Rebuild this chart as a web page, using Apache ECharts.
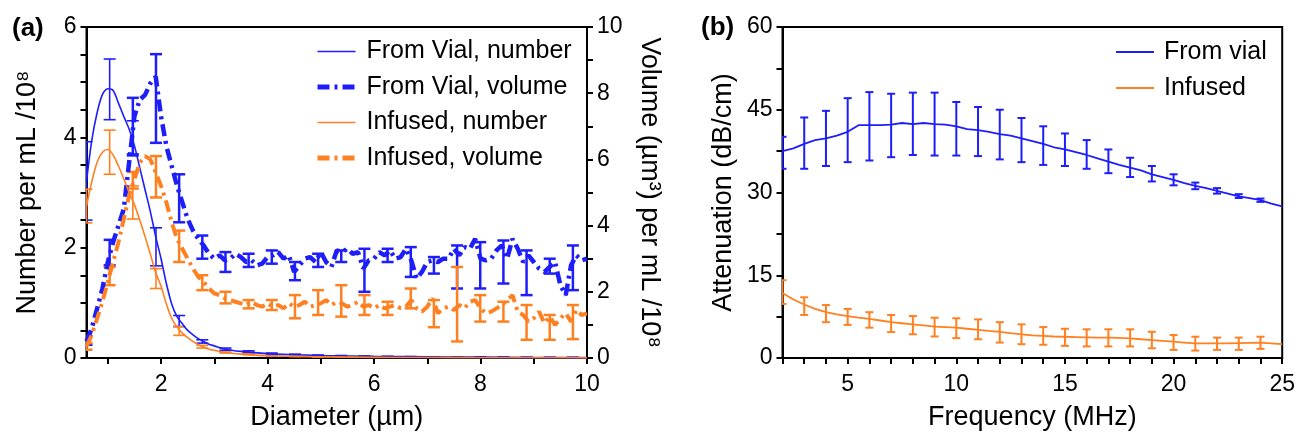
<!DOCTYPE html>
<html><head><meta charset="utf-8">
<script src="https://cdn.jsdelivr.net/npm/echarts@6/dist/echarts.min.js"></script>
<style>html,body{margin:0;padding:0;background:#fff}#c{width:1298px;height:436px}</style>
</head><body><div id="c"></div>
<script>
// ---------- Panel (a) data ----------
const diamTicks = [1,2,3,4,5,6,7,8,9,10];
const diamLabels = [2,4,6,8,10];
const numTicks = [0,0.5,1,1.5,2,2.5,3,3.5,4,4.5,5,5.5,6];
const numLabels = [0,2,4,6];
const volTicks = [0,1,2,3,4,5,6,7,8,9,10];
const volLabels = [0,2,4,6,8,10];

const numX = [0.6,0.7,0.8,0.9,1.0,1.1,1.2,1.3,1.4,1.5,1.6,1.7,1.8,1.9,2.0,2.1,2.2,2.3,2.4,2.5,2.6,2.7,2.8,2.9,3.0,3.2,3.5,4,4.5,5,6,7,8,9,10];
const vialNumber = [3.2,3.95,4.45,4.78,4.88,4.85,4.62,4.38,4.15,3.85,3.45,3.05,2.65,2.2,1.8,1.35,0.98,0.75,0.62,0.5,0.42,0.35,0.3,0.25,0.22,0.16,0.12,0.08,0.06,0.045,0.03,0.02,0.015,0.01,0.01];
const infusedNumber = [2.75,3.2,3.55,3.73,3.78,3.68,3.48,3.25,3.0,2.78,2.5,2.2,1.88,1.55,1.3,0.98,0.72,0.56,0.45,0.37,0.3,0.24,0.2,0.16,0.14,0.1,0.07,0.04,0.03,0.02,0.012,0.008,0.005,0.004,0.003];

const volX = [0.6,0.7,0.8,0.9,1.0,1.1,1.2,1.3,1.4,1.5,1.6,1.7,1.8,1.9,2.0,2.1,2.2,2.3,2.4,2.5,2.6,2.7,2.8,2.9,3.0,3.1,3.2,3.3,3.4,3.5,3.6,3.7,3.8,3.9,4.0,4.1,4.2,4.3,4.4,4.5,4.6,4.7,4.8,4.9,5.0,5.1,5.2,5.3,5.4,5.5,5.6,5.7,5.8,5.9,6.0,6.1,6.2,6.3,6.4,6.5,6.6,6.7,6.8,6.9,7.0,7.1,7.2,7.3,7.4,7.5,7.6,7.7,7.8,7.9,8.0,8.1,8.2,8.3,8.4,8.5,8.6,8.7,8.8,8.9,9.0,9.1,9.2,9.3,9.4,9.5,9.6,9.7,9.8,9.9,10.0];
const vialVolume = [0.5,0.9,1.5,2.1,2.9,3.5,4.0,4.5,5.9,7.3,7.8,7.95,8.3,8.5,
  7.3,6.4,5.8,5.2,4.7,4.2,3.85,3.6,3.4,3.15,
  3.0,3.1,2.95,3.0,3.15,3.05,2.9,2.95,2.8,2.85,
  3.05,3.1,3.2,3.0,3.1,2.6,2.8,3.0,3.05,2.9,
  3.2,2.9,2.75,3.25,3.2,3.3,3.15,3.2,2.7,2.95,
  3.0,3.2,3.1,3.25,3.0,3.05,3.3,2.95,2.4,2.6,
  2.9,2.95,2.9,3.0,3.0,3.3,3.1,3.35,3.3,3.6,
  3.0,2.95,3.0,3.25,3.4,3.0,3.6,3.3,2.9,3.1,
  2.9,2.7,2.6,2.75,2.9,2.2,1.9,2.8,3.1,2.95,
  3.0];
const infusedVolume = [0.35,0.7,1.2,1.7,2.3,2.9,3.5,4.2,4.9,5.4,5.9,6.1,6.0,5.6,
  5.2,4.7,4.1,3.6,3.3,3.0,2.7,2.45,2.3,2.1,
  1.95,1.9,1.8,1.75,1.7,1.65,1.6,1.7,1.6,1.55,
  1.65,1.55,1.6,1.5,1.65,1.55,1.6,1.7,1.55,1.6,
  1.65,1.75,1.6,1.7,1.65,1.55,1.6,1.7,1.55,1.6,
  1.5,1.6,1.5,1.55,1.6,1.5,1.55,1.75,1.5,1.4,
  1.55,1.8,1.35,1.5,1.55,1.45,1.6,1.5,1.7,1.75,
  1.5,1.35,1.4,1.5,1.6,1.75,1.9,1.4,1.3,1.1,
  1.2,1.4,1.05,1.25,1.0,1.2,1.35,1.1,1.45,1.3,
  1.35];

const barX = [0.6,1.035,1.47,1.905,2.34,2.775,3.21,3.645,4.08,4.515,4.95,5.385,5.82,6.255,6.69,7.125,7.56,7.995,8.43,8.865,9.3,9.735];
const vialNumLo = [2.5,4.32,3.7,1.67,0.57,0.27,0.14,0.1,0.07,0.055,0.04,0.035,0.028,0.024,0.02,0.018,0.015,0.013,0.012,0.011,0.01,0.009];
const vialNumHi = [3.92,5.42,4.3,2.36,0.77,0.33,0.18,0.13,0.09,0.07,0.055,0.045,0.036,0.03,0.026,0.022,0.019,0.017,0.015,0.013,0.012,0.011];
const infNumLo = [2.45,3.33,2.52,1.26,0.41,0.18,0.09,0.06,0.035,0.026,0.017,0.014,0.011,0.009,0.008,0.007,0.005,0.005,0.004,0.004,0.003,0.003];
const infNumHi = [3.06,4.13,3.12,1.62,0.57,0.23,0.11,0.08,0.045,0.034,0.023,0.018,0.014,0.011,0.01,0.009,0.007,0.006,0.005,0.005,0.004,0.004];
const vialVolLo = [0.4,2.8,6.12,6.5,4.1,3.0,2.6,2.75,2.85,2.35,2.75,2.9,2.0,2.9,2.45,2.55,2.1,2.1,2.25,1.9,2.55,2.05];
const vialVolHi = [0.66,3.57,7.86,9.18,5.55,3.7,3.2,3.15,3.25,2.9,3.15,3.25,3.3,3.3,3.35,3.05,3.4,3.5,3.55,3.25,3.0,3.4];
const infVolLo = [0.25,2.2,5.12,4.85,2.9,2.05,1.65,1.5,1.45,1.2,1.3,1.25,1.3,1.3,1.5,0.93,0.5,1.1,1.1,0.55,0.55,0.57];
const infVolHi = [0.45,2.75,5.62,6.1,3.85,2.5,2.0,1.75,1.75,1.9,2.05,2.2,1.9,1.7,2.1,1.75,2.75,1.9,1.7,1.6,1.3,1.6];

// ---------- Panel (b) data ----------
const freqTicks = [2,3,4,5,6,7,8,9,10,11,12,13,14,15,16,17,18,19,20,21,22,23,24,25];
const freqLabels = [5,10,15,20,25];
const attTicks = [0,7.5,15,22.5,30,37.5,45,52.5,60];
const attLabels = [0,15,30,45,60];

const freqX = [2,2.5,3,3.5,4,4.5,5,5.5,6,6.5,7,7.5,8,8.5,9,9.5,10,10.5,11,11.5,12,12.5,13,13.5,14,14.5,15,15.5,16,16.5,17,17.5,18,18.5,19,19.5,20,20.5,21,21.5,22,22.5,23,23.5,24,24.5,25];
const vialAtt = [37.5,38.0,38.8,39.5,39.8,40.3,41.0,42.2,42.2,42.2,42.3,42.6,42.4,42.6,42.4,42.3,42.0,41.5,41.3,41.0,40.6,40.3,39.8,39.3,38.8,38.2,37.8,37.3,36.8,36.2,35.6,35.0,34.5,34.0,33.3,32.8,32.3,31.7,31.2,30.8,30.3,29.8,29.3,29.0,28.6,28.0,27.5];
const infusedAtt = [11.8,10.6,9.7,8.9,8.3,7.9,7.6,7.3,7.1,6.8,6.5,6.3,6.1,5.9,5.7,5.6,5.5,5.3,5.1,4.9,4.75,4.5,4.3,4.1,4.0,3.9,3.85,3.8,3.75,3.7,3.7,3.65,3.55,3.4,3.25,3.1,2.95,2.8,2.65,2.65,2.65,2.65,2.7,2.75,2.8,2.65,2.5];

const barF = [2,3,4,5,6,7,8,9,10,11,12,13,14,15,16,17,18,19,20,21,22,23,24];
const vialAttLo = [34.3,34.3,34.8,35.5,35.8,36.4,36.8,36.7,36.7,36.6,36.0,35.5,35.0,34.8,34.3,33.5,32.8,32.0,31.3,30.6,29.8,29.0,28.3];
const vialAttHi = [40.1,43.6,44.8,47.1,48.2,47.9,48.1,48.1,46.4,45.5,45.0,43.5,42.0,40.7,39.5,37.8,36.3,34.8,33.3,31.8,30.8,29.7,28.9];
const infAttLo = [9.8,7.8,6.5,6.0,5.5,4.7,4.3,3.9,3.6,3.4,2.8,2.5,2.4,2.2,2.1,2.1,2.1,1.76,1.47,1.35,1.47,1.47,1.65];
const infAttHi = [14.1,11.0,9.6,8.9,8.3,7.8,7.6,7.3,7.2,7.0,6.5,6.1,5.6,5.3,5.2,5.2,5.2,4.75,4.16,3.86,3.7,3.7,3.86];

// ---------- helpers ----------
const FONT = '"Liberation Sans", Arial, sans-serif';
const BLUE = '#1e1efa', ORANGE = '#ff8021';
const zip2 = (a, b) => a.map((v, i) => [v, b[i]]);
const zip3 = (a, b, c) => a.map((v, i) => [v, b[i], c[i]]);

function errBar(cap, color, lw) {
  return function (params, api) {
    const x = api.value(0), lo = api.value(1), hi = api.value(2);
    const p1 = api.coord([x, lo]), p2 = api.coord([x, hi]);
    const h = cap / 2;
    const st = {stroke: color, lineWidth: lw, fill: null};
    return {type: 'group', children: [
      {type: 'line', shape: {x1: p1[0], y1: p1[1], x2: p2[0], y2: p2[1]}, style: st},
      {type: 'line', shape: {x1: p1[0] - h, y1: p1[1], x2: p1[0] + h, y2: p1[1]}, style: st},
      {type: 'line', shape: {x1: p2[0] - h, y1: p2[1], x2: p2[0] + h, y2: p2[1]}, style: st}
    ]};
  };
}
function axisBase(ticks, labels, margin) {
  return {
    axisLine: {show: true, onZero: false, lineStyle: {color: '#000', width: 2}},
    axisTick: {show: true, length: 6, lineStyle: {color: '#000', width: 2}, customValues: ticks},
    axisLabel: {customValues: labels, fontSize: 23, fontFamily: FONT, color: '#000', margin: margin},
    splitLine: {show: false},
    nameTextStyle: {fontSize: 27, fontFamily: FONT, color: '#000'},
    nameLocation: 'middle'
  };
}
function errSeries(xi, yi, data, cap, color, lw) {
  return {type: 'custom', xAxisIndex: xi, yAxisIndex: yi, renderItem: errBar(cap, color, lw),
    data: data, encode: {x: 0, y: [1, 2]}, silent: true, z: 3, clip: true};
}

const option = {
  animation: false,
  backgroundColor: '#fff',
  textStyle: {fontFamily: FONT},
  grid: [
    {left: 86.5, top: 27, width: 500.5, height: 333.5, show: true, borderColor: '#000', borderWidth: 2, backgroundColor: 'transparent'},
    {left: 782.5, top: 27, width: 501, height: 334.5, show: true, borderColor: '#000', borderWidth: 2, backgroundColor: 'transparent'}
  ],
  xAxis: [
    Object.assign(axisBase(diamTicks, diamLabels, 15), {type: 'value', gridIndex: 0, min: 0.6, max: 10, name: 'Diameter (µm)', nameGap: 46}),
    Object.assign(axisBase(freqTicks, freqLabels, 15), {type: 'value', gridIndex: 1, min: 2, max: 25, interval: 1, name: 'Frequency (MHz)', nameGap: 46})
  ],
  yAxis: [
    Object.assign(axisBase(numTicks, numLabels, 10), {type: 'value', gridIndex: 0, min: 0, max: 6, interval: 0.5, position: 'left', name: 'Number per mL /10⁸', nameGap: 45}),
    Object.assign(axisBase(volTicks, volLabels, 10), {type: 'value', gridIndex: 0, min: 0, max: 10, interval: 1, position: 'right', name: 'Volume (µm³) per mL /10⁸', nameGap: 49, nameRotate: -90}),
    Object.assign(axisBase(attTicks, attLabels, 10), {type: 'value', gridIndex: 1, min: 0, max: 60, interval: 7.5, position: 'left', name: 'Attenuation (dB/cm)', nameGap: 45})
  ],
  legend: [
    {orient: 'vertical', left: 315, top: 39, padding: 0, itemWidth: 38, itemHeight: 14, itemGap: 10.5,
      itemStyle: {opacity: 0},
      textStyle: {fontSize: 25, fontFamily: FONT, color: '#000', padding: [0, 0, 0, 6]},
      data: [
        {name: 'From Vial, number', lineStyle: {width: 1.6}},
        {name: 'From Vial, volume', lineStyle: {width: 5, type: [12, 5, 3, 5]}},
        {name: 'Infused, number', lineStyle: {width: 1.6}},
        {name: 'Infused, volume', lineStyle: {width: 5, type: [12, 5, 3, 5]}}
      ]},
    {orient: 'vertical', left: 1115, top: 39.5, padding: 0, itemWidth: 38, itemHeight: 14, itemGap: 11,
      itemStyle: {opacity: 0},
      textStyle: {fontSize: 25, fontFamily: FONT, color: '#000', padding: [0, 0, 0, 5]},
      data: ['From vial', 'Infused']}
  ],
  graphic: [
    {type: 'text', style: {x: 12, y: 29, text: '(a)', fontSize: 26, fontWeight: 'bold', fontFamily: FONT, fill: '#000', verticalAlign: 'middle'}},
    {type: 'text', style: {x: 701, y: 28, text: '(b)', fontSize: 26, fontWeight: 'bold', fontFamily: FONT, fill: '#000', verticalAlign: 'middle'}}
  ],
  series: [
    {name: 'From Vial, number', type: 'line', xAxisIndex: 0, yAxisIndex: 0, data: zip2(numX, vialNumber), smooth: 0.3,
      symbol: 'none', color: BLUE, lineStyle: {color: BLUE, width: 1.6}, z: 4},
    {name: 'From Vial, volume', type: 'line', xAxisIndex: 0, yAxisIndex: 1, data: zip2(volX, vialVolume),
      symbol: 'none', color: BLUE, lineStyle: {color: BLUE, width: 4.5, type: [12, 5, 3, 5]}, z: 4},
    {name: 'Infused, number', type: 'line', xAxisIndex: 0, yAxisIndex: 0, data: zip2(numX, infusedNumber), smooth: 0.3,
      symbol: 'none', color: ORANGE, lineStyle: {color: ORANGE, width: 1.6}, z: 4},
    {name: 'Infused, volume', type: 'line', xAxisIndex: 0, yAxisIndex: 1, data: zip2(volX, infusedVolume),
      symbol: 'none', color: ORANGE, lineStyle: {color: ORANGE, width: 4, type: [12, 5, 3, 5]}, z: 4},
    errSeries(0, 0, zip3(barX, vialNumLo, vialNumHi), 12, BLUE, 1.6),
    errSeries(0, 1, zip3(barX, vialVolLo, vialVolHi), 12, BLUE, 2.5),
    errSeries(0, 0, zip3(barX, infNumLo, infNumHi), 12, ORANGE, 1.6),
    errSeries(0, 1, zip3(barX, infVolLo, infVolHi), 12, ORANGE, 2.5),
    {name: 'From vial', type: 'line', xAxisIndex: 1, yAxisIndex: 2, data: zip2(freqX, vialAtt),
      symbol: 'none', color: BLUE, lineStyle: {color: BLUE, width: 1.8}, z: 4},
    {name: 'Infused', type: 'line', xAxisIndex: 1, yAxisIndex: 2, data: zip2(freqX, infusedAtt),
      symbol: 'none', color: ORANGE, lineStyle: {color: ORANGE, width: 1.8}, z: 4},
    errSeries(1, 2, zip3(barF, vialAttLo, vialAttHi), 8, BLUE, 2),
    errSeries(1, 2, zip3(barF, infAttLo, infAttHi), 8, ORANGE, 2)
  ]
};
const chart = echarts.init(document.getElementById('c'), null, {renderer: 'canvas'});
chart.setOption(option);
</script></body></html>
